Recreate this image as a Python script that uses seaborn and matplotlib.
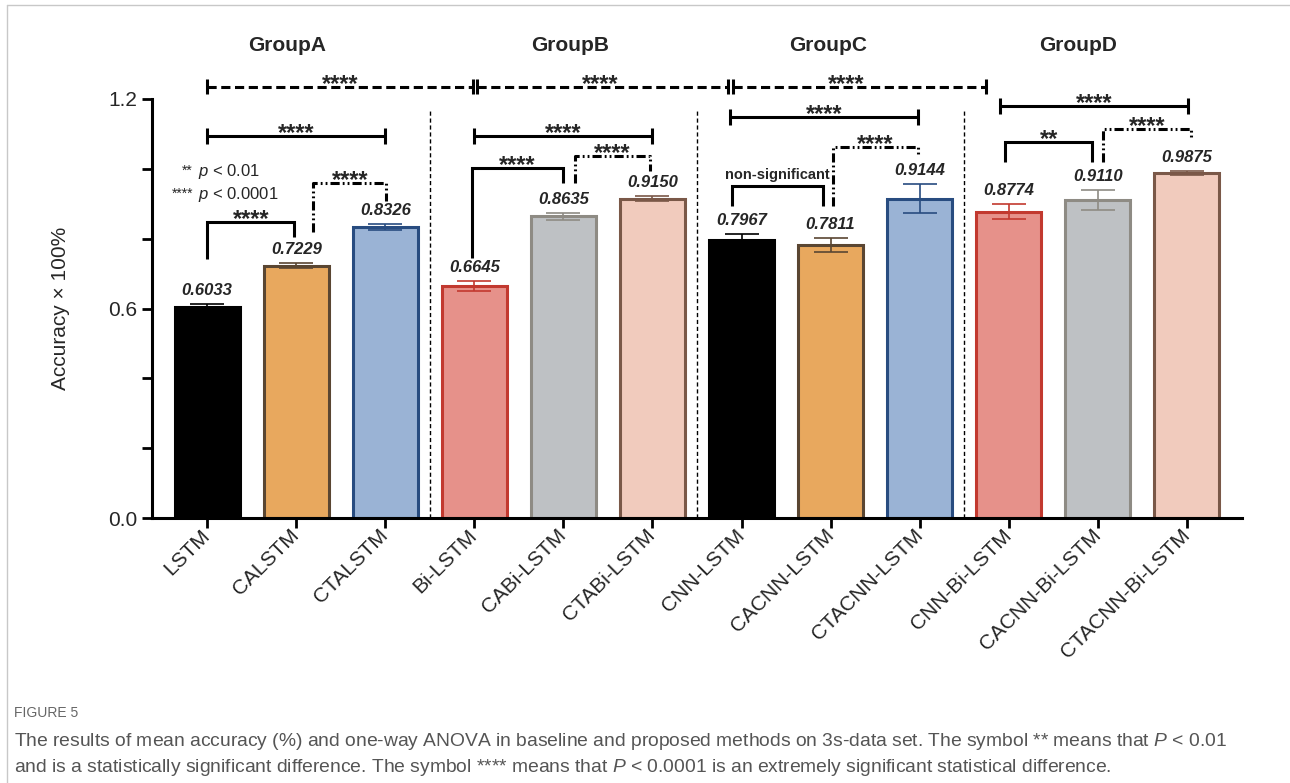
import pandas as pd
import matplotlib.pyplot as plt
import seaborn as sns
from matplotlib.lines import Line2D

# data
models = ["LSTM", "CALSTM", "CTALSTM", "Bi-LSTM", "CABi-LSTM", "CTABi-LSTM",
          "CNN-LSTM", "CACNN-LSTM", "CTACNN-LSTM", "CNN-Bi-LSTM",
          "CACNN-Bi-LSTM", "CTACNN-Bi-LSTM"]
accuracy = [0.6033, 0.7229, 0.8326, 0.6645, 0.8635, 0.9150,
            0.7967, 0.7811, 0.9144, 0.8774, 0.9110, 0.9875]
errors = [0.011, 0.007, 0.009, 0.014, 0.011, 0.007,
          0.017, 0.020, 0.042, 0.021, 0.029, 0.006]
groups = ["GroupA", "GroupB", "GroupC", "GroupD"]

fill_colors = ["#000000", "#E8A85E", "#9AB3D5", "#E6918A", "#BEC1C4", "#F1CBBD"] * 2
edge_colors = ["#000000", "#5A4632", "#284C80", "#C2392F", "#8E8B84", "#7A5848"] * 2

# significance annotations (x in bar index units, y in data units)
group_lines = [(0.0, 2.99, 1.49), (3.03, 5.85, 4.41), (5.90, 8.75, 7.18)]
capped_lines = [(0.0, 2.0, 1.094, "****"), (3.0, 5.0, 1.094, "****"),
                (5.87, 7.98, 1.148, "****"), (8.90, 11.01, 1.18, "****")]
open_brackets = [(0.0, 0.98, 0.847, 0.741, 0.804, "****"),
                 (2.97, 4.0, 1.002, 0.744, 0.959, "****"),
                 (5.89, 6.92, 0.950, 0.893, 0.893, "non-significant"),
                 (8.96, 9.94, 1.077, 1.019, 1.019, "**")]
dashdot_brackets = [(1.19, 2.01, 0.959, 0.818, 0.907, "****"),
                    (4.13, 4.97, 1.036, 0.959, 0.993, "****"),
                    (7.03, 7.98, 1.062, 0.893, 1.036, "****"),
                    (10.06, 11.05, 1.114, 1.019, 1.091, "****")]
group_title_x = [0.9, 4.07, 6.97, 9.78]
separators = [2.5, 5.5, 8.5]


def star_text(ax, x, y, label):
    if label == "non-significant":
        ax.text(x, y + 0.022, label, ha="center", va="baseline", fontsize=10.5,
                fontweight="bold", clip_on=False)
    else:
        ax.text(x, y - 0.012, label, ha="center", va="baseline", fontsize=17,
                fontweight="bold", clip_on=False)


def main():
    sns.set_style("ticks")
    plt.rcParams["font.family"] = ["Liberation Sans", "DejaVu Sans"]
    plt.rcParams["mathtext.fontset"] = "custom"
    plt.rcParams["mathtext.rm"] = "Liberation Sans"
    plt.rcParams["mathtext.it"] = "Liberation Sans:italic"

    df = pd.DataFrame({"model": models, "accuracy": accuracy})

    fig = plt.figure(figsize=(12.9, 7.83), dpi=100)
    ax = fig.add_axes([152 / 1290, 1 - 518 / 783, 1090 / 1290, 419 / 783])

    sns.barplot(data=df, x="model", y="accuracy", hue="model", palette=fill_colors,
                legend=False, width=0.73, linewidth=2.2, saturation=1,
                errorbar=None, ax=ax)
    for patch, ec in zip(ax.patches, edge_colors):
        patch.set_edgecolor(ec)
        patch.set_zorder(2)

    for i, (acc, err) in enumerate(zip(accuracy, errors)):
        ax.errorbar(i, acc, yerr=err, color=edge_colors[i], capsize=12,
                    elinewidth=1.2, capthick=1.2, zorder=3)
        ax.text(i, acc + err + 0.017, f"{acc:.4f}", ha="center", va="bottom",
                fontsize=12, fontweight="bold", style="italic")

    ax.set_xlim(-0.62, 11.62)
    ax.set_ylim(0, 1.2)
    ax.set_yticks([0.0, 0.6, 1.2])
    ax.set_yticklabels(["0.0", "0.6", "1.2"])
    ax.set_yticks([0.2, 0.4, 0.8, 1.0], minor=True)
    ax.tick_params(axis="both", which="both", width=2, length=7, labelsize=15,
                   color="black")
    plt.setp(ax.get_xticklabels(), rotation=45, ha="right", va="center",
             rotation_mode="anchor")
    ax.set_xlabel("")
    ax.set_ylabel("Accuracy × 100%", fontsize=15)
    ax.yaxis.set_label_coords(-0.075, 0.5)
    sns.despine(ax=ax)
    for side in ["left", "bottom"]:
        ax.spines[side].set_linewidth(2.2)
        ax.spines[side].set_color("black")

    lw = 2.2
    kw = dict(color="black", lw=lw, clip_on=False, solid_capstyle="butt")

    # vertical group separators
    for xs in separators:
        ax.plot([xs, xs], [0, 1.168], color="black", lw=1, ls=(0, (3, 2)), clip_on=False)

    # dashed group-vs-group lines
    for x1, x2, sx in group_lines:
        ax.plot([x1, x2], [1.235, 1.235], ls=(0, (3, 1.5)), **kw)
        for xc in (x1, x2):
            ax.plot([xc, xc], [1.213, 1.257], **kw)
        star_text(ax, sx, 1.235, "****")

    # capped solid lines
    for x1, x2, y, lab in capped_lines:
        ax.plot([x1, x2], [y, y], **kw)
        for xc in (x1, x2):
            ax.plot([xc, xc], [y - 0.022, y + 0.022], **kw)
        star_text(ax, (x1 + x2) / 2, y, lab)

    # open brackets
    for x1, x2, y, yl, yr, lab in open_brackets:
        ax.plot([x1, x1, x2, x2], [yl, y, y, yr], solid_joinstyle="miter", **kw)
        star_text(ax, (x1 + x2) / 2, y, lab)

    # dash-dot brackets
    for x1, x2, y, yl, yr, lab in dashdot_brackets:
        ax.plot([x1, x1, x2, x2], [yl, y, y, yr], ls=(0, (3, 1, 0.6, 1, 0.6, 1)), **kw)
        star_text(ax, (x1 + x2) / 2, y, lab)

    # group titles
    for gx, name in zip(group_title_x, groups):
        ax.text(gx, 1.352, name, ha="center", va="center", fontsize=15,
                fontweight="bold", clip_on=False)

    # p-value key
    ax.text(-0.16, 0.982, "**", ha="right", va="baseline", fontsize=10)
    ax.text(-0.10, 0.979, "$p$ < 0.01", ha="left", va="baseline", fontsize=12)
    ax.text(-0.16, 0.916, "****", ha="right", va="baseline", fontsize=10)
    ax.text(-0.10, 0.913, "$p$ < 0.0001", ha="left", va="baseline", fontsize=12)

    # page frame and caption
    fig.add_artist(Line2D([7 / 1290, 7 / 1290], [0, 1 - 5 / 783],
                          transform=fig.transFigure, color="#c8c8c8", lw=1))
    fig.add_artist(Line2D([7 / 1290, 1], [1 - 5 / 783, 1 - 5 / 783],
                          transform=fig.transFigure, color="#c8c8c8", lw=1))
    fig.text(14 / 1290, 1 - 713 / 783, "FIGURE 5", fontsize=10, color="#666666",
             va="center")
    fig.text(14 / 1290, 1 - 741 / 783,
             "The results of mean accuracy (%) and one-way ANOVA in baseline and proposed "
             "methods on 3s-data set. The symbol ** means that $P$ < 0.01",
             fontsize=13.9, color="#555555", va="center")
    fig.text(14 / 1290, 1 - 767 / 783,
             "and is a statistically significant difference. The symbol **** means that "
             "$P$ < 0.0001 is an extremely significant statistical difference.",
             fontsize=13.9, color="#555555", va="center")

    fig.savefig("out.png", dpi=100)


if __name__ == "__main__":
    main()
